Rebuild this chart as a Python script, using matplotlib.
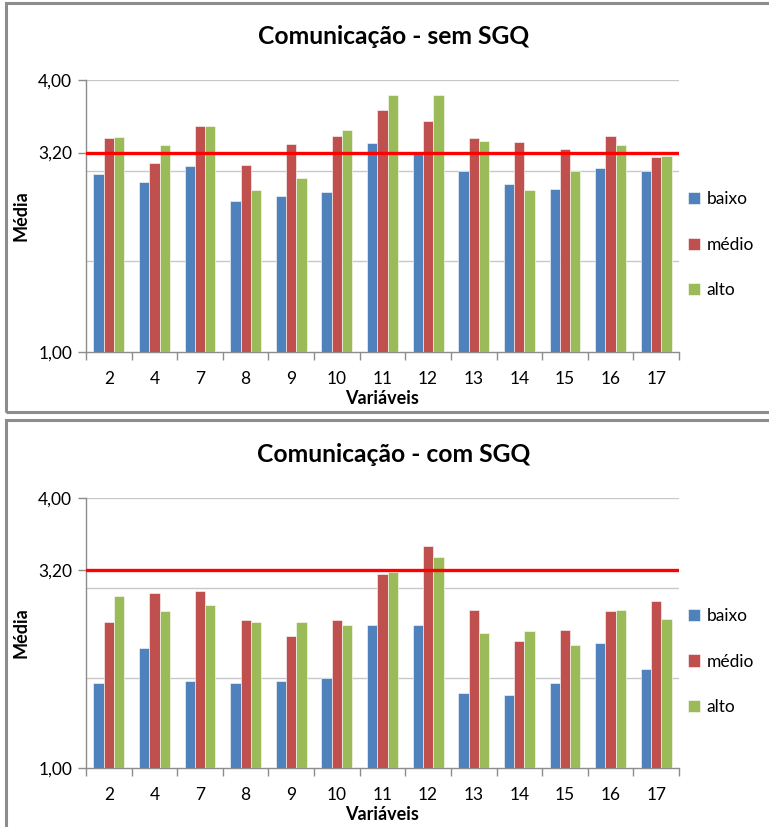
import matplotlib
matplotlib.use("Agg")
import matplotlib.pyplot as plt
import numpy as np
from matplotlib.patches import Rectangle

W, H = 769, 827
DPI = 100

variaveis = ["2", "4", "7", "8", "9", "10", "11", "12", "13", "14", "15", "16", "17"]
niveis = ["baixo", "médio", "alto"]
cores = ["#4F81BD", "#C0504D", "#9BBB59"]
referencia = 3.20

sem_baixo = [2.96, 2.88, 3.05, 2.67, 2.72, 2.77, 3.31, 3.21, 3.00, 2.85, 2.80, 3.03, 3.00]
sem_medio = [3.36, 3.09, 3.49, 3.06, 3.29, 3.38, 3.67, 3.55, 3.36, 3.32, 3.24, 3.38, 3.15]
sem_alto = [3.37, 3.28, 3.49, 2.79, 2.92, 3.45, 3.83, 3.83, 3.33, 2.79, 3.00, 3.28, 3.16]

com_baixo = [1.95, 2.33, 1.97, 1.95, 1.97, 2.00, 2.59, 2.59, 1.83, 1.81, 1.95, 2.39, 2.10]
com_medio = [2.62, 2.95, 2.97, 2.65, 2.47, 2.65, 3.16, 3.47, 2.76, 2.41, 2.53, 2.74, 2.86]
com_alto = [2.91, 2.74, 2.81, 2.62, 2.62, 2.59, 3.18, 3.35, 2.50, 2.52, 2.37, 2.76, 2.66]

plt.rcParams["font.family"] = ["Lato", "DejaVu Sans"]


def px_axes(fig, left, top, right, bottom):
    return fig.add_axes([left / W, 1 - bottom / H, (right - left) / W, (bottom - top) / H])


def painel(fig, box_top, box_bottom, ax_top, ax_bottom, titulo, series):
    # moldura cinzenta do gráfico
    fig.patches.append(Rectangle((5.5 / W, 1 - box_bottom / H), 1.0, (box_bottom - box_top) / H,
                                 transform=fig.transFigure, fill=False,
                                 edgecolor="#8C8C8C", linewidth=2.2))
    ax = px_axes(fig, 86, ax_top, 679, ax_bottom)
    x = np.arange(len(variaveis))
    w = 0.225
    for i, (vals, cor, nome) in enumerate(zip(series, cores, niveis)):
        alturas = np.array(vals) - 1.0
        ax.bar(x + (i - 1) * w, alturas, w, bottom=1.0, color=cor,
               edgecolor="#FFFFFF", linewidth=0.4, label=nome, zorder=3)
    for g in (2, 3, 4):
        ax.axhline(g, color="#C8C8C8", linewidth=1.0, zorder=1)
    ax.axhline(referencia, color="#FF0000", linewidth=2.4, zorder=4)

    ax.set_xlim(-0.5, len(variaveis) - 0.5)
    ax.set_ylim(1.0, 4.0)
    ax.set_yticks([1.0, 3.2, 4.0])
    ax.set_yticklabels(["1,00", "3,20", "4,00"], fontsize=12.5)
    ax.set_xticks(x)
    ax.set_xticklabels(variaveis, fontsize=12.5)
    ax.set_xticks(np.arange(len(variaveis) + 1) - 0.5, minor=True)
    ax.tick_params(axis="x", which="major", length=0, pad=14)
    ax.tick_params(axis="x", which="minor", length=6, color="#8C8C8C", width=1)
    ax.tick_params(axis="y", length=6, color="#8C8C8C", width=1, pad=4)
    for s in ("top", "right"):
        ax.spines[s].set_visible(False)
    for s in ("left", "bottom"):
        ax.spines[s].set_color("#8C8C8C")
        ax.spines[s].set_linewidth(1.0)

    ax.set_xlabel("Variáveis", fontsize=13, fontweight="bold")
    ax.xaxis.set_label_coords(0.5, -38 / (ax_bottom - ax_top))
    ax.set_ylabel("Média", fontsize=13, fontweight="bold")
    ax.yaxis.set_label_coords(-56 / 593, 0.5)
    ax.set_title(titulo, fontsize=17.7, fontweight="bold", pad=26, x=0.5185)

    ax.legend(loc="center left", bbox_to_anchor=(0.988, 0.394), frameon=False,
              fontsize=12.5, handlelength=0.7, handleheight=0.7, handletextpad=0.4,
              labelspacing=1.7)
    return ax


fig = plt.figure(figsize=(W / DPI, H / DPI), dpi=DPI)
painel(fig, 3, 412, 80, 352, "Comunicação - sem SGQ", [sem_baixo, sem_medio, sem_alto])
painel(fig, 420, 900, 498, 768, "Comunicação - com SGQ", [com_baixo, com_medio, com_alto])
fig.savefig("out.png", dpi=DPI)
